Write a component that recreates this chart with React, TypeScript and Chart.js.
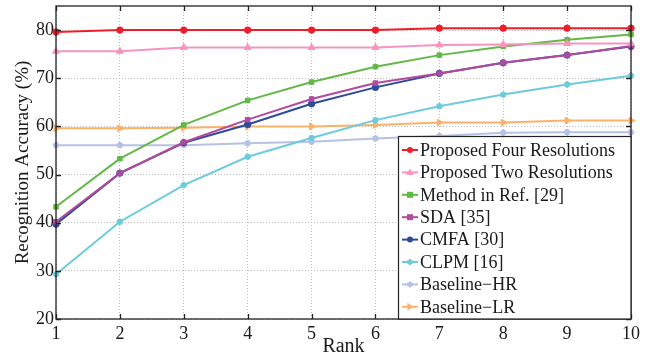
import React, { useEffect, useRef } from "react";
import { Chart, registerables } from "chart.js";

Chart.register(...registerables);

const ranks = ["1", "2", "3", "4", "5", "6", "7", "8", "9", "10"];
const proposedFour = [79.6, 80.0, 80.0, 80.0, 80.0, 80.0, 80.4, 80.4, 80.4, 80.4];
const proposedTwo = [75.6, 75.6, 76.4, 76.4, 76.4, 76.4, 76.9, 77.0, 77.2, 77.2];
const methodRef29 = [43.3, 53.3, 60.3, 65.4, 69.2, 72.4, 74.8, 76.6, 78.0, 79.1];
const sda35 = [40.2, 50.3, 56.7, 61.4, 65.7, 69.0, 71.0, 73.2, 74.8, 76.7];
const cmfa30 = [39.7, 50.3, 56.6, 60.4, 64.7, 68.1, 71.0, 73.2, 74.8, 76.6];
const clpm16 = [29.3, 40.2, 47.8, 53.7, 57.6, 61.3, 64.2, 66.6, 68.7, 70.5];
const baselineHR = [56.1, 56.1, 56.1, 56.5, 56.8, 57.5, 58.0, 58.7, 58.8, 58.8];
const baselineLR = [59.6, 59.6, 59.7, 60.0, 60.0, 60.3, 60.8, 60.8, 61.2, 61.2];
const yTicks = [20, 30, 40, 50, 60, 70, 80];

const seriesDefs = [
  { label: "Proposed Four Resolutions", data: proposedFour, color: "#ee1d2a", style: "circle", rot: 0 },
  { label: "Proposed Two Resolutions", data: proposedTwo, color: "#f595bf", style: "triangle", rot: 0 },
  { label: "Method in Ref. [29]", data: methodRef29, color: "#62b846", style: "rect", rot: 0 },
  { label: "SDA [35]", data: sda35, color: "#b24aa0", style: "rect", rot: 0 },
  { label: "CMFA [30]", data: cmfa30, color: "#2f4a9c", style: "circle", rot: 0 },
  { label: "CLPM [16]", data: clpm16, color: "#6ccbdc", style: "star", rot: 0 },
  { label: "Baseline\u2212HR", data: baselineHR, color: "#b5c1e6", style: "star", rot: 0 },
  { label: "Baseline\u2212LR", data: baselineLR, color: "#fcb168", style: "triangle", rot: 90 },
];

const SERIF = "'Liberation Serif', 'Times New Roman', Times, serif";

function drawMarker(ctx: CanvasRenderingContext2D, style: string, r: number, x: number, y: number, rot: number, color: string) {
  ctx.save();
  ctx.fillStyle = color;
  ctx.strokeStyle = color;
  ctx.lineWidth = 1;
  ctx.translate(x, y);
  ctx.rotate((rot * Math.PI) / 180);
  ctx.beginPath();
  if (style === "circle") {
    ctx.arc(0, 0, r, 0, Math.PI * 2);
    ctx.fill();
  } else if (style === "rect") {
    ctx.rect(-r, -r, 2 * r, 2 * r);
    ctx.fill();
  } else if (style === "triangle") {
    const s = r * 1.3;
    ctx.moveTo(0, -s);
    ctx.lineTo(s * 0.95, s * 0.65);
    ctx.lineTo(-s * 0.95, s * 0.65);
    ctx.closePath();
    ctx.fill();
  } else if (style === "star") {
    ctx.lineWidth = 2;
    for (let k = 0; k < 3; k++) {
      const a = (k * Math.PI) / 3 + Math.PI / 2;
      ctx.moveTo(Math.cos(a) * r, Math.sin(a) * r);
      ctx.lineTo(-Math.cos(a) * r, -Math.sin(a) * r);
    }
    ctx.stroke();
  }
  ctx.restore();
}

const framePlugin = {
  id: "frame",
  afterDraw(chart: any) {
    const { ctx, chartArea } = chart;
    const { left, right, top, bottom } = chartArea;
    const xs = chart.scales.x;
    const ys = chart.scales.y;
    ctx.save();
    ctx.strokeStyle = "#222";
    ctx.lineWidth = 1.3;
    ctx.setLineDash([]);
    ctx.beginPath();
    for (let i = 0; i < ranks.length; i++) {
      const x = Math.round(xs.getPixelForValue(i)) + 0.5;
      ctx.moveTo(x, bottom);
      ctx.lineTo(x, bottom - 5);
      ctx.moveTo(x, top);
      ctx.lineTo(x, top + 5);
    }
    for (const v of yTicks) {
      const y = Math.round(ys.getPixelForValue(v)) + 0.5;
      ctx.moveTo(left, y);
      ctx.lineTo(left + 5, y);
      ctx.moveTo(right, y);
      ctx.lineTo(right - 5, y);
    }
    ctx.stroke();
    ctx.strokeRect(left, top, right - left, bottom - top);

    // legend box
    const bx = 398, by = 136, bw = right - bx, bh = bottom - by;
    ctx.fillStyle = "#fff";
    ctx.fillRect(bx, by, bw, bh);
    ctx.strokeStyle = "#222";
    ctx.lineWidth = 1.2;
    ctx.strokeRect(bx + 0.5, by + 0.5, bw - 0.5, bh - 0.5);
    ctx.font = `18px ${SERIF}`;
    ctx.textBaseline = "middle";
    ctx.textAlign = "left";
    seriesDefs.forEach((s, i) => {
      const y = 150 + i * 22.4;
      ctx.strokeStyle = s.color;
      ctx.lineWidth = 2;
      ctx.beginPath();
      ctx.moveTo(402, y);
      ctx.lineTo(418, y);
      ctx.stroke();
      drawMarker(ctx, s.style, 3, 410, y, s.rot, s.color);
      ctx.fillStyle = "#1a1a1a";
      ctx.fillText(s.label, 420, y + 1);
    });
    ctx.restore();
  },
};

export default function App() {
  const ref = useRef<HTMLCanvasElement>(null);
  useEffect(() => {
    if (!ref.current) return;
    const chart = new Chart(ref.current, {
      type: "line",
      data: {
        labels: ranks,
        datasets: seriesDefs.map((s) => ({
          label: s.label,
          data: s.data,
          borderColor: s.color,
          backgroundColor: s.color,
          borderWidth: 2,
          pointStyle: s.style as any,
          pointRotation: s.rot,
          pointRadius: s.style === "triangle" ? 4 : 3.2,
          pointBorderWidth: s.style === "star" ? 2 : 1,
          tension: 0,
          fill: false,
        })),
      },
      options: {
        animation: false,
        responsive: false,
        maintainAspectRatio: false,
        layout: { padding: { top: 4, right: 32, left: 0, bottom: 0 } },
        plugins: { legend: { display: false }, tooltip: { enabled: false } },
        scales: {
          x: {
            type: "category",
            offset: false,
            grid: { color: "#bdbdbd", lineWidth: 1, drawTicks: false },
            border: { display: false, dash: [1, 2] },
            ticks: { color: "#1a1a1a", font: { family: SERIF, size: 18 }, padding: 4, maxRotation: 0, autoSkip: false },
            title: { display: true, text: "Rank", color: "#1a1a1a", font: { family: SERIF, size: 20 }, padding: { top: -4, bottom: 4 } },
            afterFit: (s: any) => { s.height = 44; },
          },
          y: {
            min: 20,
            max: 85,
            afterBuildTicks: (s: any) => { s.ticks = yTicks.map((v) => ({ value: v })); },
            grid: { color: "#bdbdbd", lineWidth: 1, drawTicks: false },
            border: { display: false, dash: [1, 2] },
            ticks: { color: "#1a1a1a", font: { family: SERIF, size: 18, lineHeight: 0.4 }, padding: 2 },
            title: { display: true, text: "Recognition Accuracy (%)", color: "#1a1a1a", font: { family: SERIF, size: 19 }, padding: { top: 12, bottom: 0 } },
            afterFit: (s: any) => { s.width = 56; },
          },
        },
      },
      plugins: [framePlugin],
    });
    return () => chart.destroy();
  }, []);
  return (
    <div style={{ position: "absolute", left: 0, top: 0, width: 663, height: 363, background: "#fff" }}>
      <canvas ref={ref} width={663} height={363} style={{ width: 663, height: 363 }} />
    </div>
  );
}
